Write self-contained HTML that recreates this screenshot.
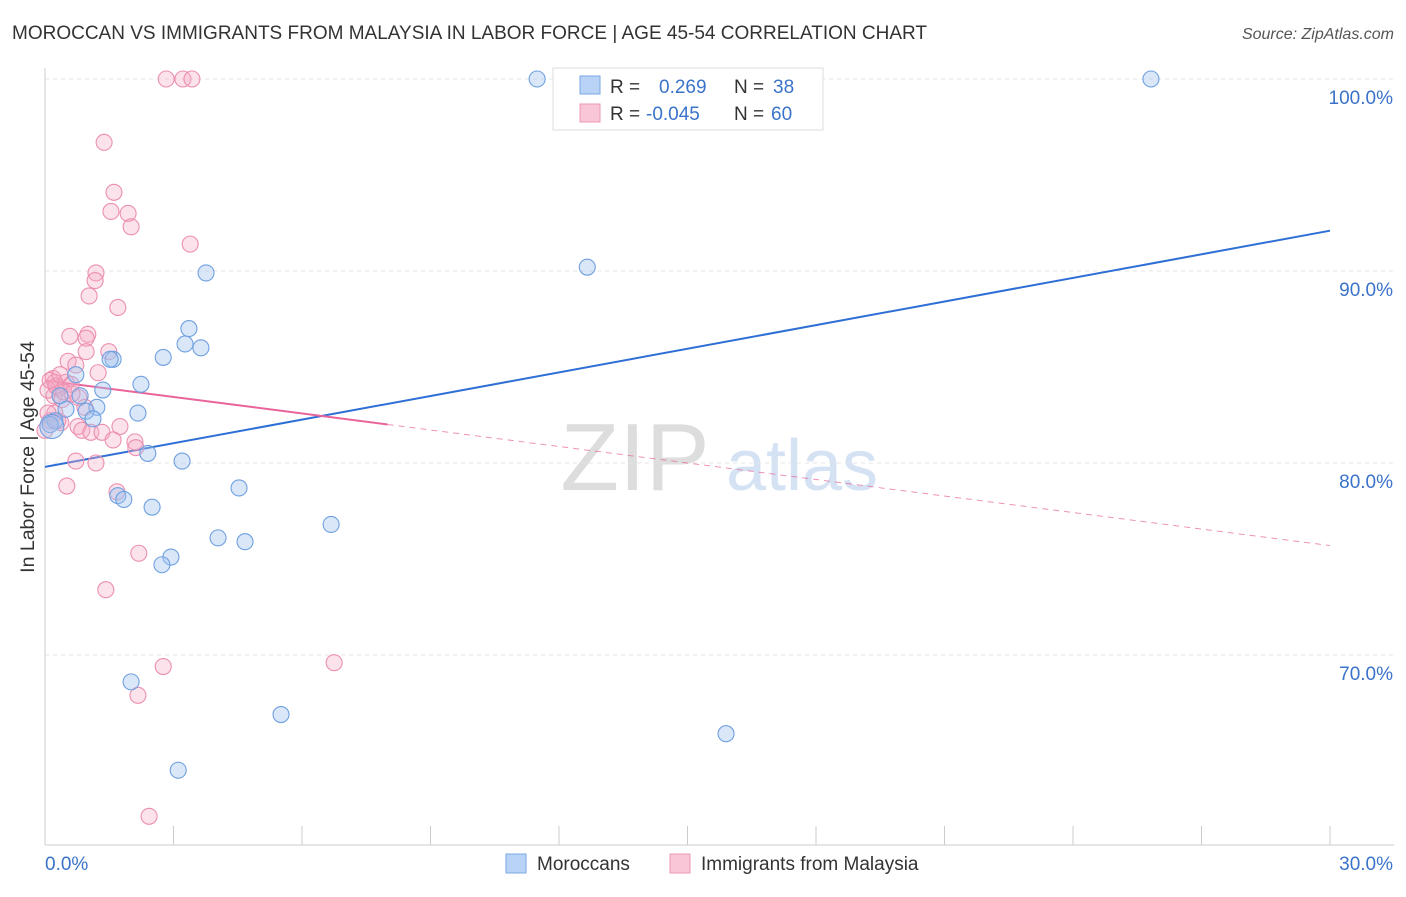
<!DOCTYPE html>
<html><head><meta charset="utf-8"><style>
body{margin:0;background:#fff;font-family:"Liberation Sans",sans-serif;}
svg text{font-family:"Liberation Sans",sans-serif;}
</style></head><body>
<svg id="chart" width="1406" height="892" viewBox="0 0 1406 892" xmlns="http://www.w3.org/2000/svg">
<text x="12" y="39" font-size="19" fill="#333">MOROCCAN VS IMMIGRANTS FROM MALAYSIA IN LABOR FORCE | AGE 45-54 CORRELATION CHART</text>
<text x="1394" y="39" font-size="16" fill="#555" text-anchor="end" font-style="italic">Source: ZipAtlas.com</text>
<text transform="translate(34,457) rotate(-90)" font-size="19.5" fill="#333" text-anchor="middle">In Labor Force | Age 45-54</text>
<g>
<text x="635" y="490" font-size="96" fill="#ddd" text-anchor="middle" font-family="Liberation Serif">ZIP</text>
<text x="802" y="490" font-size="72" fill="#d4e2f4" text-anchor="middle">atlas</text>
</g>
<g id="grid"></g><g id="axes"></g><g id="trends"></g><g id="points"></g>
<g>
<rect x="553" y="68" width="270" height="62" fill="#fff" stroke="#ddd"/>
<rect x="580" y="76" width="20" height="18" fill="#b8d3f5" stroke="#7aa8e4"/>
<text x="610" y="93" font-size="19" fill="#333">R =</text><text x="659" y="93" font-size="19" fill="#3a73c9">0.269</text>
<text x="734" y="93" font-size="19" fill="#333">N =</text><text x="773" y="93" font-size="19" fill="#3a73c9">38</text>
<rect x="580" y="104" width="20" height="18" fill="#f8c6d6" stroke="#ec98b6"/>
<text x="610" y="120" font-size="19" fill="#333">R =</text><text x="646" y="120" font-size="19" fill="#3a73c9">-0.045</text>
<text x="734" y="120" font-size="19" fill="#333">N =</text><text x="771" y="120" font-size="19" fill="#3a73c9">60</text>
</g>
<g>
<rect x="506" y="854" width="20" height="19" fill="#b8d3f5" stroke="#7aa8e4"/>
<text x="537" y="870" font-size="19" fill="#333">Moroccans</text>
<rect x="670" y="854" width="20" height="19" fill="#f8c6d6" stroke="#ec98b6"/>
<text x="701" y="870" font-size="19" fill="#333">Immigrants from Malaysia</text>
</g>
</svg>
<script>
const blueX=[11.49,25.82,12.66,3.76,3.36,3.27,3.64,2.76,1.59,1.52,2.24,1.35,0.72,0.82,0.35,0.49,1.21,0.96,1.12,2.17,0.23,0.12,2.40,3.20,4.53,1.70,1.84,2.50,6.68,4.04,4.67,2.94,2.73,2.01,5.51,15.90,3.11,0.16];
const blueY=[100,100,90.2,89.9,87.0,86.2,86.0,85.5,85.4,85.4,84.1,83.8,84.6,83.5,83.5,82.8,82.9,82.7,82.3,82.6,82.2,82.0,80.5,80.1,78.7,78.3,78.1,77.7,76.8,76.1,75.9,75.1,74.7,68.6,66.9,65.9,64.0,81.9];
const pinkX=[2.83,3.22,3.43,1.38,1.61,1.54,1.94,2.01,3.39,1.19,1.17,1.03,1.70,0.58,1.00,0.96,0.96,0.54,1.49,0.72,0.19,0.49,0.33,0.61,1.24,0.21,0.79,0.23,0.40,0.07,0.93,0.77,0.86,1.07,1.33,1.75,2.10,2.12,1.59,0.23,0.12,0.37,0.07,1.19,0.72,0.51,1.68,2.19,1.42,2.76,6.75,2.17,2.43,0.26,0.44,0.63,0.30,0.12,0.35,0.00];
const pinkY=[100,100,100,96.7,94.1,93.1,93.0,92.3,91.4,89.9,89.5,88.7,88.1,86.6,86.7,86.5,85.8,85.3,85.8,85.1,84.4,84.2,83.9,84.1,84.7,83.5,83.4,84.2,83.3,83.8,82.9,81.9,81.7,81.6,81.6,81.9,81.1,80.8,81.2,82.6,82.2,82.1,82.6,80.0,80.1,78.8,78.5,75.3,73.4,69.4,69.6,67.9,61.6,84.0,83.7,83.6,82.2,84.3,84.6,81.7];
const yTicks=[100,90,80,70];
const yTickLabels=["100.0%","90.0%","80.0%","70.0%"];
const xTicks=[0,3,6,9,12,15,18,21,24,27,30];
const blueTrend=[79.8,92.1];
const pinkTrend=[84.3,75.7];
const pinkSolidEnd=8.0;
const NS="http://www.w3.org/2000/svg";
const X=v=>45+v*(1285/30), Y=v=>79+(100-v)*19.2;
function mk(t,a,p){const e=document.createElementNS(NS,t);for(const k in a)e.setAttribute(k,a[k]);p.appendChild(e);return e;}
const grid=document.getElementById('grid'),axes=document.getElementById('axes'),tr=document.getElementById('trends'),pts=document.getElementById('points');
yTicks.forEach((v,i)=>{
 const l=mk('line',{x1:45,x2:1394,y1:Y(v),y2:Y(v),stroke:'#e4e4e4','stroke-dasharray':'4,4'},grid);
 
 
 const t=mk('text',{x:1393,y:Y(v)+25,'font-size':19,fill:'#3a73c9','text-anchor':'end'},grid);
 t.textContent=yTickLabels[i];
 
 
});
const ax=mk('line',{x1:45,x2:1394,y1:845,y2:845,stroke:'#ccc'},axes);


const ay=mk('line',{x1:45,x2:45,y1:68,y2:845,stroke:'#ccc'},axes);


xTicks.forEach(v=>{
 const l=mk('line',{x1:X(v),x2:X(v),y1:826,y2:845,stroke:'#ccc'},axes);
 
 
});
[[0,"0.0%","start",45],[30,"30.0%","end",1393]].forEach(d=>{
 const t=mk('text',{x:d[3],y:870,'font-size':19,fill:'#3a73c9','text-anchor':d[2]},axes);
 t.textContent=d[1];
 
 
});
const bl=mk('line',{x1:X(0),y1:Y(blueTrend[0]),x2:X(30),y2:Y(blueTrend[1]),stroke:'#2e6fd6','stroke-width':2},tr);


const pe=pinkTrend[0]+(pinkTrend[1]-pinkTrend[0])*pinkSolidEnd/30;
const pl=mk('line',{x1:X(0),y1:Y(pinkTrend[0]),x2:X(pinkSolidEnd),y2:Y(pe),stroke:'#e8649a','stroke-width':2},tr);


const pd=mk('line',{x1:X(pinkSolidEnd),y1:Y(pe),x2:X(30),y2:Y(pinkTrend[1]),stroke:'#e8649a','stroke-width':1,'stroke-dasharray':'6,5',opacity:0.7},tr);


pinkX.forEach((x,i)=>{
 const c=mk('circle',{cx:X(x),cy:Y(pinkY[i]),r:8,fill:'rgba(246,172,198,0.35)',stroke:'#ec8fb0','stroke-width':1.1},pts);
 
 
});
blueX.forEach((x,i)=>{
 const c=mk('circle',{cx:X(x),cy:Y(blueY[i]),r:i==37?12:8,fill:'rgba(160,196,240,0.4)',stroke:'#6fa0e0','stroke-width':1.1},pts);
 
 
});
</script>
</body></html>
